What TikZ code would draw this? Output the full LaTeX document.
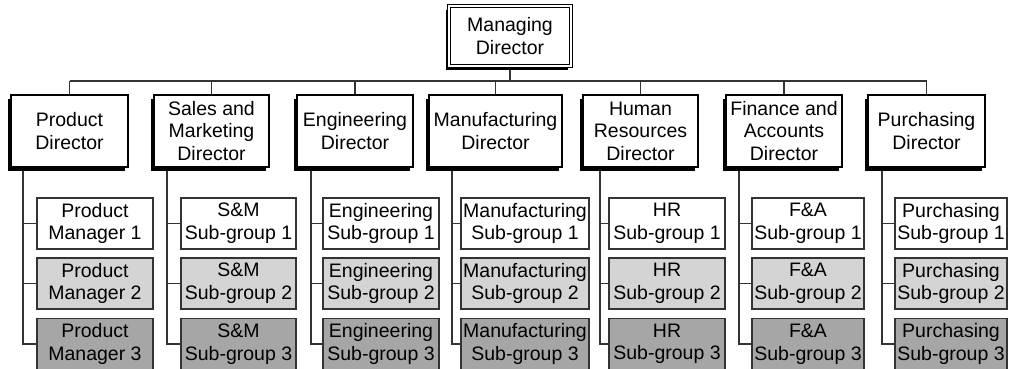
\documentclass[tikz,border=0pt]{standalone}
\usepackage{fontspec}
\setmainfont{Liberation Sans}
\usetikzlibrary{shadows,backgrounds}
\definecolor{lightbox}{RGB}{212,212,212}
\definecolor{darkbox}{RGB}{166,166,166}
\definecolor{linegray}{RGB}{51,51,51}
\begin{document}
\begin{tikzpicture}[x=1pt,y=-1pt,
  txt/.style={font=\fontsize{19.5}{22.6}\selectfont, align=center, inner sep=0pt},
  shad/.style={drop shadow={shadow xshift=-3.5pt, shadow yshift=-3.5pt, fill=black, opacity=1}},
  mdbox/.style={txt, shad, draw=black, fill=white, line width=1.2pt, double=white, double distance=2.2pt},
  dirbox/.style={txt, shad, draw=black, fill=white, line width=1.8pt, minimum height=72pt},
  subbox/.style={txt, draw=linegray, line width=1.2pt, minimum height=51pt},
  subA/.style={subbox, fill=white},
  subB/.style={subbox, fill=lightbox},
  subC/.style={subbox, fill=darkbox},
  conn/.style={draw=linegray, line width=1.2pt}]
\useasboundingbox (0,0) rectangle (1012,368);
\clip (0,0) rectangle (1012,368);

% top
\node[mdbox, minimum width=122pt, minimum height=60pt] (md) at (510,36) {Managing\\Director};

% directors
\node[dirbox, minimum width=117pt] (d1) at (69.5,131) {Product\\Director};
\node[dirbox, minimum width=115pt] (d2) at (211.5,131) {Sales and\\Marketing\\Director};
\node[dirbox, minimum width=116pt] (d3) at (355,131) {Engineering\\Director};
\node[dirbox, minimum width=133pt] (d4) at (495.5,131) {Manufacturing\\Director};
\node[dirbox, minimum width=115pt] (d5) at (640.5,131) {Human\\Resources\\Director};
\node[dirbox, minimum width=116pt] (d6) at (784,131) {Finance and\\Accounts\\Director};
\node[dirbox, minimum width=117pt] (d7) at (926.5,131) {Purchasing\\Director};

% sub-groups
\foreach \i/\cx/\w/\lab in {1/95/116/Product,2/238.5/115/S\&M,3/381/116/Engineering,4/525/128/Manufacturing,5/667/116/HR,6/808/112/F\&A,7/951/112/Purchasing}{
  \ifnum\i=1
    \node[subA, minimum width=\w pt] (s\i1) at (\cx,223.5) {\lab\\Manager 1};
    \node[subB, minimum width=\w pt] (s\i2) at (\cx,283.5) {\lab\\Manager 2};
    \node[subC, minimum width=\w pt] (s\i3) at (\cx,344) {\lab\\Manager 3};
  \else
    \node[subA, minimum width=\w pt] (s\i1) at (\cx,223.5) {\lab\\Sub-group 1};
    \node[subB, minimum width=\w pt] (s\i2) at (\cx,283.5) {\lab\\Sub-group 2};
    \node[subC, minimum width=\w pt] (s\i3) at (\cx,344) {\lab\\Sub-group 3};
  \fi
}

\begin{scope}[on background layer]
  \coordinate (bus) at (0,81);
  \draw[conn] (md.south) -- (md.south |- bus);
  \draw[conn] (d1.north |- bus) -- (d7.north |- bus);
  \foreach \i in {1,...,7}{
    \draw[conn] (d\i.north) -- (d\i.north |- bus);
  }
  \foreach \i/\sx in {1/23,2/167,3/311,4/452,5/600,6/739,7/882}{
    \coordinate (sp\i) at (\sx,0);
    \draw[conn] (d\i.south -| sp\i) -- (s\i3.west -| sp\i) -- (s\i3.west);
    \draw[conn] (s\i1.west -| sp\i) -- (s\i1.west);
    \draw[conn] (s\i2.west -| sp\i) -- (s\i2.west);
  }
\end{scope}
\end{tikzpicture}
\end{document}
